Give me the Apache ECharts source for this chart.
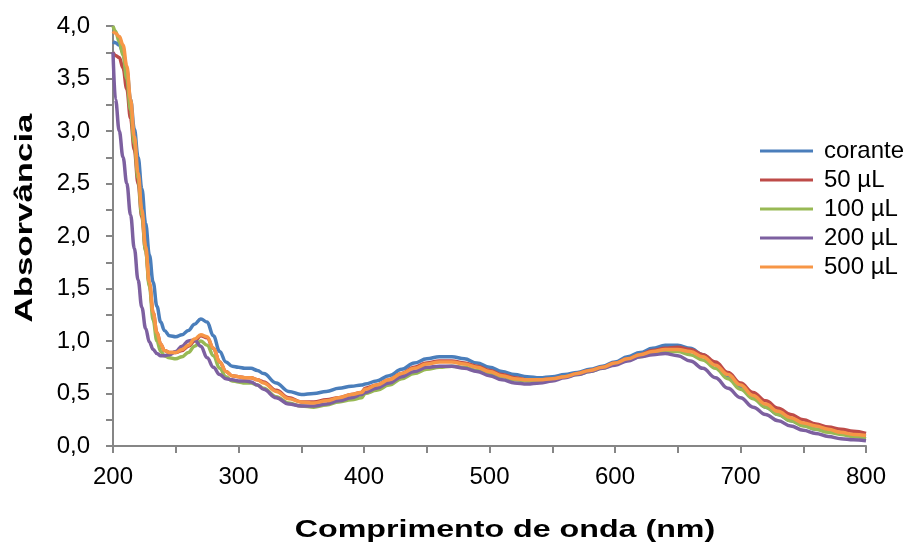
<!DOCTYPE html>
<html>
<head>
<meta charset="utf-8">
<script src="https://cdn.jsdelivr.net/npm/echarts@6/dist/echarts.min.js"></script>
<style>
  html, body { margin: 0; padding: 0; background: #fff; }
  #main { width: 911px; height: 551px; }
</style>
</head>
<body>
<div id="main"></div>
<script>
var wavelengths = [200,202,205,208,211,214,217,220,223,226,
    229,232,235,238,241,245,250,255,260,265,
    270,275,280,285,290,295,300,305,310,315,
    320,330,340,350,360,370,380,390,398,401,
    410,420,430,440,450,460,470,480,490,500,
    510,520,530,540,550,560,570,580,590,600,
    610,620,630,640,650,660,670,680,690,700,
    710,720,730,740,750,760,770,780,790,800];

var corante = [3.85,3.84,3.82,3.75,3.58,3.3,3.02,2.75,2.45,2.12,
    1.82,1.56,1.33,1.18,1.1,1.05,1.04,1.06,1.1,1.16,
    1.21,1.18,1.05,0.9,0.8,0.76,0.75,0.74,0.74,0.72,
    0.69,0.6,0.52,0.49,0.5,0.52,0.55,0.57,0.58,0.59,
    0.62,0.67,0.73,0.79,0.83,0.85,0.85,0.83,0.79,0.75,
    0.71,0.68,0.66,0.65,0.66,0.68,0.7,0.73,0.76,0.8,
    0.85,0.89,0.93,0.96,0.96,0.93,0.87,0.78,0.67,0.56,
    0.46,0.37,0.3,0.24,0.2,0.16,0.14,0.12,0.1,0.09];

var ul50 = [3.75,3.72,3.7,3.6,3.4,3.12,2.82,2.5,2.18,1.86,
    1.54,1.27,1.08,0.97,0.91,0.89,0.89,0.91,0.95,1.0,
    1.05,1.03,0.93,0.8,0.71,0.67,0.66,0.65,0.65,0.63,
    0.61,0.53,0.46,0.42,0.42,0.44,0.46,0.49,0.51,0.55,
    0.58,0.63,0.69,0.75,0.79,0.81,0.81,0.79,0.76,0.72,
    0.68,0.65,0.63,0.63,0.64,0.66,0.69,0.72,0.75,0.79,
    0.83,0.87,0.91,0.93,0.94,0.92,0.87,0.8,0.7,0.6,
    0.51,0.43,0.36,0.3,0.25,0.21,0.18,0.16,0.14,0.12];

var ul100 = [4.0,3.95,3.85,3.72,3.5,3.2,2.88,2.55,2.2,1.86,
    1.52,1.2,1.0,0.9,0.86,0.84,0.83,0.85,0.89,0.95,
    1.0,0.96,0.86,0.74,0.66,0.62,0.61,0.6,0.6,0.58,
    0.55,0.47,0.41,0.38,0.37,0.39,0.42,0.44,0.46,0.5,
    0.53,0.58,0.64,0.69,0.73,0.75,0.76,0.75,0.72,0.69,
    0.66,0.63,0.62,0.62,0.63,0.66,0.68,0.71,0.74,0.78,
    0.82,0.85,0.88,0.9,0.9,0.87,0.82,0.74,0.64,0.54,
    0.45,0.37,0.3,0.24,0.19,0.16,0.13,0.11,0.09,0.07];

var ul200 = [3.75,3.3,3.0,2.75,2.5,2.2,1.88,1.58,1.32,1.12,
    0.99,0.92,0.88,0.86,0.86,0.87,0.9,0.95,1.0,1.01,
    0.95,0.84,0.75,0.68,0.64,0.63,0.62,0.62,0.61,0.58,
    0.54,0.46,0.4,0.38,0.38,0.4,0.43,0.46,0.49,0.51,
    0.55,0.6,0.66,0.71,0.75,0.76,0.76,0.74,0.71,0.67,
    0.63,0.6,0.59,0.6,0.62,0.65,0.68,0.71,0.74,0.77,
    0.81,0.85,0.87,0.88,0.86,0.81,0.74,0.65,0.55,0.46,
    0.37,0.3,0.24,0.19,0.15,0.12,0.09,0.07,0.06,0.05];

var ul500 = [3.95,3.93,3.9,3.82,3.62,3.3,2.95,2.6,2.25,1.9,
    1.56,1.27,1.08,0.97,0.91,0.89,0.89,0.92,0.96,1.02,
    1.06,1.04,0.93,0.8,0.71,0.67,0.66,0.65,0.65,0.63,
    0.6,0.52,0.45,0.42,0.41,0.43,0.46,0.49,0.51,0.54,
    0.58,0.63,0.69,0.74,0.78,0.8,0.8,0.78,0.75,0.71,
    0.67,0.64,0.63,0.63,0.64,0.66,0.69,0.72,0.75,0.79,
    0.83,0.87,0.9,0.92,0.92,0.9,0.85,0.77,0.68,0.58,
    0.48,0.4,0.33,0.27,0.22,0.19,0.16,0.13,0.11,0.1];

var seriesNames = ['corante', '50 µL', '100 µL', '200 µL', '500 µL'];
var seriesColors = ['#4A7EBB', '#BE4B48', '#98B954', '#7D60A0', '#F79646'];
var seriesValues = [corante, ul50, ul100, ul200, ul500];

function pairs(vals) {
    return wavelengths.map(function (w, i) { return [w, vals[i]]; });
}

var myChart = echarts.init(document.getElementById('main'));

var axisLineStyle = { color: '#868686', width: 2 };
var font = 'Liberation Sans, Arial, sans-serif';

var option = {
    animation: false,
    grid: { left: 113, right: 45, top: 26, bottom: 105, containLabel: false },
    legend: {
        orient: 'vertical',
        left: 755,
        top: 134,
        icon: 'rect',
        itemWidth: 53,
        itemHeight: 3,
        itemGap: 5,
        textStyle: { fontFamily: font, fontSize: 24, color: '#000', lineHeight: 24, padding: [0, 0, 0, 6] },
        data: seriesNames
    },
    graphic: [
        {
            type: 'text',
            x: 505,
            y: 531,
            scaleX: 1.4,
            style: {
                text: 'Comprimento de onda (nm)',
                font: 'bold 23px Liberation Sans, Arial, sans-serif',
                fill: '#000',
                align: 'center',
                verticalAlign: 'middle'
            }
        },
        {
            type: 'text',
            x: 25,
            y: 218,
            rotation: Math.PI / 2,
            scaleX: 1.45,
            style: {
                text: 'Absorvância',
                font: 'bold 24px Liberation Sans, Arial, sans-serif',
                fill: '#000',
                align: 'center',
                verticalAlign: 'middle'
            }
        }
    ],
    xAxis: {
        type: 'value',
        min: 200,
        max: 800,
        interval: 50,
        axisLine: { lineStyle: axisLineStyle },
        axisTick: { show: true, length: 7, lineStyle: axisLineStyle },
        splitLine: { show: false },
        axisLabel: {
            fontFamily: font, fontSize: 24, color: '#000', margin: 19,
            formatter: function (v) { return v % 100 === 0 ? String(v) : ''; }
        }
    },
    yAxis: {
        type: 'value',
        min: 0,
        max: 4,
        interval: 0.25,
        axisLine: { show: true, lineStyle: axisLineStyle },
        axisTick: { show: true, length: 7, lineStyle: axisLineStyle },
        splitLine: { show: false },
        axisLabel: {
            fontFamily: font, fontSize: 24, color: '#000', margin: 23,
            formatter: function (v) {
                return Math.abs(v * 2 - Math.round(v * 2)) < 1e-6 ? v.toFixed(1).replace('.', ',') : '';
            }
        }
    },
    series: seriesNames.map(function (name, i) {
        return {
            name: name,
            type: 'line',
            data: pairs(seriesValues[i]),
            smooth: 0.4,
            smoothMonotone: 'x',
            symbol: 'none',
            color: seriesColors[i],
            lineStyle: { width: 3.5, color: seriesColors[i] }
        };
    })
};

myChart.setOption(option);
</script>
</body>
</html>
